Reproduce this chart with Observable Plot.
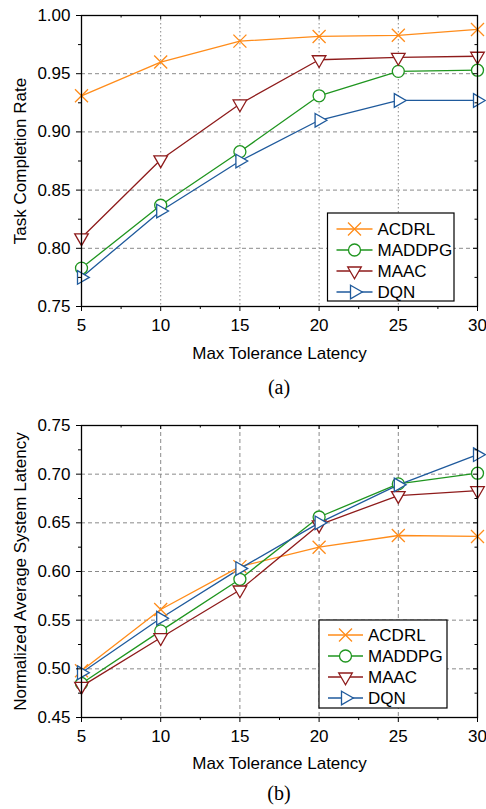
<!DOCTYPE html>
<html><head><meta charset="utf-8">
<script src="https://cdn.jsdelivr.net/npm/d3@7"></script>
<script src="https://cdn.jsdelivr.net/npm/@observablehq/plot@0.6"></script>
<style>
body{margin:0;background:#fff;}
#wrap{position:relative;width:486px;height:809px;overflow:hidden;}
#wrap svg{position:absolute;left:0;}
.cap{position:absolute;left:179px;width:200px;text-align:center;font-family:"Liberation Serif","Times New Roman",serif;font-size:20px;line-height:24px;color:#000;}
</style></head><body><div id="wrap"></div>
<script>
// ---- data ----
const xValues = [5, 10, 15, 20, 25, 30];
const xMinorTicks = [7.5, 12.5, 17.5, 22.5, 27.5];
const seriesNames = ["ACDRL", "MADDPG", "MAAC", "DQN"];
const seriesColors = ["#ff8c1a", "#1f951f", "#8e1b1b", "#1f5a9c"];

const rateACDRL  = [0.931, 0.960, 0.978, 0.982, 0.983, 0.988];
const rateMADDPG = [0.783, 0.837, 0.883, 0.931, 0.952, 0.953];
const rateMAAC   = [0.809, 0.876, 0.924, 0.962, 0.964, 0.965];
const rateDQN    = [0.775, 0.832, 0.875, 0.910, 0.927, 0.927];
const rateTicks = [0.75, 0.80, 0.85, 0.90, 0.95, 1.00];
const rateMinorTicks = [0.775, 0.825, 0.875, 0.925, 0.975];

const latACDRL  = [0.498, 0.561, 0.605, 0.625, 0.637, 0.636];
const latMADDPG = [0.485, 0.539, 0.592, 0.656, 0.690, 0.701];
const latMAAC   = [0.482, 0.532, 0.581, 0.648, 0.678, 0.683];
const latDQN    = [0.496, 0.552, 0.603, 0.650, 0.689, 0.720];
const latTicks = [0.45, 0.50, 0.55, 0.60, 0.65, 0.70, 0.75];
const latMinorTicks = [0.475, 0.525, 0.575, 0.625, 0.675, 0.725];

const xTitle = "Max Tolerance Latency";
const yTitleA = "Task Completion Rate";
const yTitleB = "Normalized Average System Latency";
const captionA = "(a)";
const captionB = "(b)";

// ---- symbols ----
const symTimes = {draw(c){const s=6.5;c.moveTo(-s,-s);c.lineTo(s,s);c.moveTo(s,-s);c.lineTo(-s,s);}};
const symCircle = {draw(c){c.moveTo(6,0);c.arc(0,0,6,0,2*Math.PI);c.closePath();}};
const symTriDown = {draw(c){c.moveTo(-6.8,-4);c.lineTo(6.8,-4);c.lineTo(0,7.8);c.closePath();}};
const symTriRight = {draw(c){c.moveTo(-4,-6.8);c.lineTo(7.8,0);c.lineTo(-4,6.8);c.closePath();}};
const seriesSymbols = [symTimes, symCircle, symTriDown, symTriRight];
const seriesFill = ["none", "white", "white", "white"];
function symPath(sym){const p=d3.path();sym.draw(p);return p.toString();}

function makeChart(o){
  const plotW = 486 - 81 - 9;
  const plotH = o.height - o.marginTop - o.marginBottom;
  const rows = [];
  o.series.forEach((vals, i) => vals.forEach((v, j) => rows.push({x: xValues[j], y: v, s: i})));
  const marks = [
    Plot.gridY(o.yTicks.slice(1, -1), {stroke: "#8a8a8a", strokeOpacity: 1, strokeDasharray: "4,3"}),
    Plot.gridX(xValues.slice(1, -1), {stroke: "#8a8a8a", strokeOpacity: 1, strokeDasharray: o.xDash}),
  ];
  seriesNames.forEach((n, i) => {
    const r = rows.filter(d => d.s === i);
    marks.push(Plot.line(r, {x: "x", y: "y", stroke: seriesColors[i], strokeWidth: 1.3}));
  });
  seriesNames.forEach((n, i) => {
    const r = rows.filter(d => d.s === i);
    marks.push(Plot.dot(r, {x: "x", y: "y", symbol: seriesSymbols[i], stroke: seriesColors[i], fill: seriesFill[i], strokeWidth: 1.3}));
  });
  marks.push(
    Plot.frame({stroke: "black", strokeWidth: 1.3}),
    Plot.axisX(xValues, {anchor: "bottom", tickSize: 5, tickPadding: 7, label: null, tickFormat: d => String(d)}),
    Plot.axisX(xMinorTicks, {anchor: "bottom", tickSize: 3, label: null, tickFormat: () => ""}),
    Plot.ruleX(xValues, {stroke: "black", insetBottom: plotH - 4}),
    Plot.ruleX(xMinorTicks, {stroke: "black", insetBottom: plotH - 2.5}),
    Plot.axisY(o.yTicks, {anchor: "left", tickSize: 5, tickPadding: 6, label: null, tickFormat: d3.format(".2f")}),
    Plot.axisY(o.yMinor, {anchor: "left", tickSize: 3, label: null, tickFormat: () => ""}),
    Plot.ruleY(o.yTicks, {stroke: "black", insetLeft: plotW - 4}),
    Plot.ruleY(o.yMinor, {stroke: "black", insetLeft: plotW - 2.5}),
    Plot.text([xTitle], {text: d => d, frameAnchor: "bottom", lineAnchor: "middle", textAnchor: "middle", dy: o.xTitleDy, fontSize: 17}),
    Plot.text([o.yTitle], {text: d => d, frameAnchor: "left", lineAnchor: "middle", textAnchor: "middle", rotate: -90, dx: -61, fontSize: 17})
  );
  const svg = Plot.plot({
    width: 486, height: o.height,
    marginLeft: 81, marginRight: 9, marginTop: o.marginTop, marginBottom: o.marginBottom,
    x: {domain: [5, 30]},
    y: {domain: o.yDomain},
    style: {fontFamily: "'Liberation Sans', Arial, sans-serif", fontSize: "17px", color: "black", background: "white"},
    marks
  });
  // legend
  const g = d3.select(svg).append("g").attr("text-anchor", "start");
  const L = o.legend;
  g.append("rect").attr("x", L.x).attr("y", L.y).attr("width", L.w).attr("height", L.h)
    .attr("fill", "white").attr("stroke", "black").attr("stroke-width", 1.2);
  seriesNames.forEach((n, i) => {
    const cy = L.y + L.row0 + i * L.dy;
    g.append("line").attr("x1", L.x + L.lx1).attr("x2", L.x + L.lx2).attr("y1", cy).attr("y2", cy)
      .attr("stroke", seriesColors[i]).attr("stroke-width", 1.5);
    g.append("path").attr("d", symPath(seriesSymbols[i]))
      .attr("transform", `translate(${L.x + (L.lx1 + L.lx2) / 2},${cy})`)
      .attr("stroke", seriesColors[i]).attr("fill", seriesFill[i]).attr("stroke-width", 1.3);
    g.append("text").attr("x", L.x + L.tx).attr("y", cy).attr("dy", "0.35em")
      .attr("text-anchor", "start").attr("font-size", 17).attr("fill", "black").text(n);
  });
  return svg;
}

const wrap = document.getElementById("wrap");
const svgA = makeChart({
  series: [rateACDRL, rateMADDPG, rateMAAC, rateDQN],
  yDomain: [0.75, 1.0], yTicks: rateTicks, yMinor: rateMinorTicks,
  yTitle: yTitleA, xDash: "1.5,2.5",
  height: 366, marginTop: 15, marginBottom: 60, xTitleDy: 47,
  legend: {x: 327.5, y: 213, w: 126.5, h: 88, row0: 16, dy: 21, lx1: 9, lx2: 45, tx: 50}
});
svgA.style.top = "0px";
wrap.appendChild(svgA);

const svgB = makeChart({
  series: [latACDRL, latMADDPG, latMAAC, latDQN],
  yDomain: [0.45, 0.75], yTicks: latTicks, yMinor: latMinorTicks,
  yTitle: yTitleB, xDash: "4,3",
  height: 376, marginTop: 25, marginBottom: 59, xTitleDy: 46,
  legend: {x: 319, y: 220, w: 128, h: 88, row0: 15, dy: 21, lx1: 9, lx2: 44, tx: 49}
});
svgB.style.top = "400px";
wrap.appendChild(svgB);

const cA = document.createElement("div"); cA.className = "cap"; cA.style.top = "375px"; cA.textContent = captionA; wrap.appendChild(cA);
const cB = document.createElement("div"); cB.className = "cap"; cB.style.top = "781px"; cB.textContent = captionB; wrap.appendChild(cB);
</script></body></html>
